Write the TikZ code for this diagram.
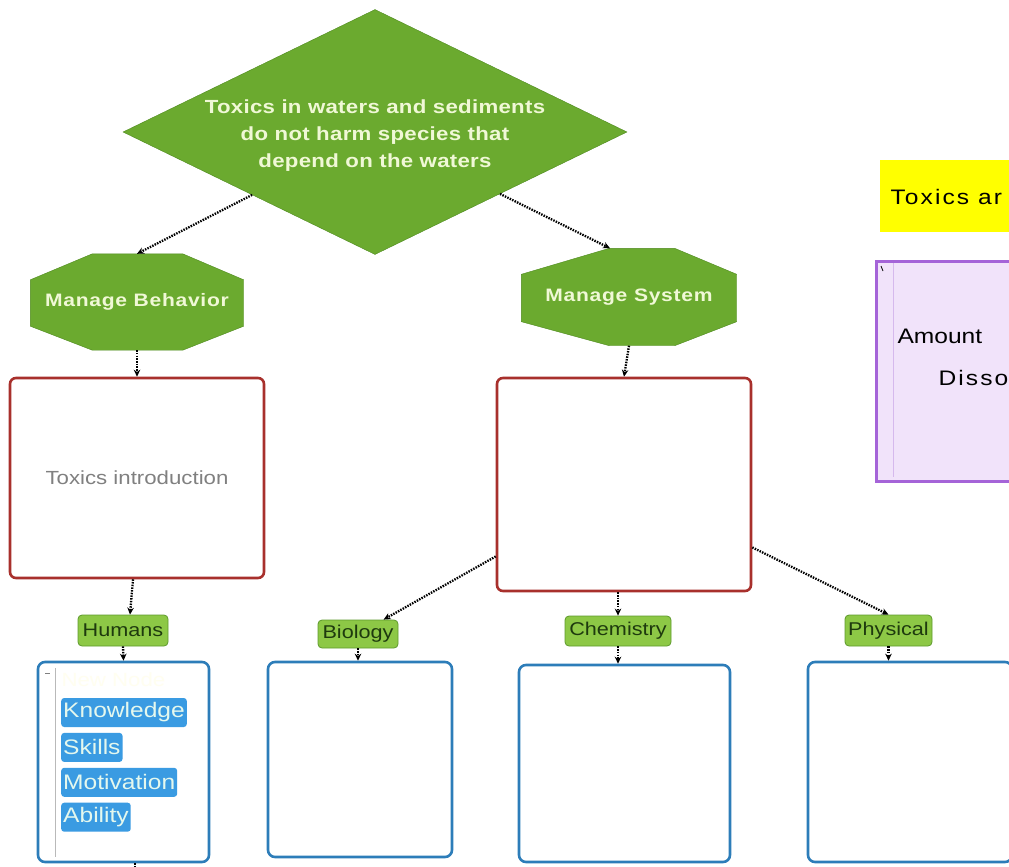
\documentclass[tikz,border=0pt]{standalone}
\usepackage{fontspec}
\setmainfont{Liberation Sans}[FakeStretch=1.17]
\newfontfamily\spacedfont{Liberation Sans}[FakeStretch=1.17, LetterSpace=4]
\newfontfamily\goalfont{Liberation Sans}[FakeStretch=1.17, LetterSpace=1.5]
\newfontfamily\notefont{Liberation Sans}[FakeStretch=1.17, LetterSpace=10]
\usepackage{tikz}
\usetikzlibrary{arrows.meta, positioning, shapes.geometric, calc, backgrounds}
\definecolor{goalGreen}{HTML}{6BAA2F}
\definecolor{goalEdge}{HTML}{4E8A1E}
\definecolor{goalText}{HTML}{F0F8D6}
\definecolor{factorRed}{HTML}{A8302C}
\definecolor{tagGreen}{HTML}{8DC846}
\definecolor{tagEdge}{HTML}{5E9A2C}
\definecolor{tagText}{HTML}{1E3A0E}
\definecolor{slotBlue}{HTML}{2D7DB9}
\definecolor{itemBlue}{HTML}{3A9BE2}
\definecolor{itemText}{HTML}{E4F8EE}
\definecolor{noteYellow}{HTML}{FFFF00}
\definecolor{notePurple}{HTML}{A564D8}
\definecolor{noteLilac}{HTML}{F1E3FA}
\tikzset{
	goal/.style={diamond, aspect=2.06, fill=goalGreen, draw=goalEdge, minimum width=504pt, minimum height=245pt, inner sep=0pt},
	goaltext/.style={align=center, text=goalText, font=\goalfont\bfseries\fontsize{19}{27}\selectfont},
	strategy/.style={rectangle, inner sep=0pt, text=goalText, font=\spacedfont\bfseries\fontsize{18}{22}\selectfont},
	octagon/.style={fill=goalGreen, draw=goalEdge},
	factor/.style={rectangle, rounded corners=6pt, draw=factorRed, line width=2.6pt, fill=white, minimum width=254pt, text=gray, font=\fontsize{19}{23}\selectfont},
	tag/.style={rectangle, rounded corners=4pt, fill=tagGreen, draw=tagEdge, line width=0.8pt, inner sep=0pt, text=tagText, font=\fontsize{18.5}{22}\selectfont},
	slot/.style={rectangle, rounded corners=7pt, draw=slotBlue, line width=2.6pt, fill=white},
	item/.style={rectangle, rounded corners=3pt, fill=itemBlue, text=itemText, inner xsep=2pt, inner ysep=0pt, minimum height=29pt, font=\fontsize{21}{25}\selectfont},
	conn/.style={line width=2.3pt, dash pattern=on 1.5pt off 1.2pt, -{Stealth[length=7pt, width=6.5pt]}},
}

\begin{document}
\begin{tikzpicture}[x=1pt, y=-1pt, every node/.style={inner sep=.25ex}]
	\useasboundingbox (0,0) rectangle (1009,867);
	\clip (0,0) rectangle (1009,867);

	% goal and the two strategies
	\node[goal] (goal) at (375,132) {};
	\node[goaltext] (goaltxt) at ($(goal)+(0,4)$) {Toxics in waters and sediments\\do not harm species that\\depend on the waters};
	\node[strategy, minimum width=213pt, minimum height=96pt] (behav) at (137,302) {Manage Behavior};
	\node[strategy, minimum width=215pt, minimum height=97pt] (sys) at (629,297) {Manage System};
	\begin{scope}[on background layer]
		\foreach \n/\l/\r in {behav/62/61, sys/88/62}
			\filldraw[octagon] ($(\n.north west)+(\l,0)$) -- ($(\n.north east)+(-\r,0)$) -- ($(\n.north east)+(0,26)$) -- ($(\n.south east)+(0,-24)$)
				-- ($(\n.south east)+(-\r,0)$) -- ($(\n.south west)+(\l,0)$) -- ($(\n.south west)+(0,-24)$) -- ($(\n.north west)+(0,26)$) -- cycle;
	\end{scope}
	\coordinate (sysN) at ($(sys.north)+(-19,0)$);

	% factor boxes
	\node[factor, minimum height=200pt] (intro) at (137,478) {Toxics introduction};
	\node[factor, minimum height=213pt] (sysbox) at (624,484.5) {};

	% tags
	\node[tag, minimum width=90pt, minimum height=31pt] (humans) at (123,630.5) {Humans};
	\node[tag, minimum width=80pt, minimum height=28pt] (bio) at (358,634) {Biology};
	\node[tag, minimum width=106pt, minimum height=30pt] (chem) at (618,631) {Chemistry};
	\node[tag, minimum width=87pt, minimum height=31pt] (phys) at (888.5,630.5) {Physical};

	% empty slots
	\node[slot, minimum width=171pt, minimum height=200pt] (slotA) at (123.5,762) {};
	\node[slot, minimum width=184pt, minimum height=195pt] (slotB) at (360,759.5) {};
	\node[slot, minimum width=211pt, minimum height=197pt] (slotC) at (624.5,763.5) {};
	\node[slot, minimum width=204pt, minimum height=200pt] (slotD) at (910,762) {};
	\coordinate (slotOut) at (135,880);

	% inside the humans slot
	\draw[gray!55, line width=0.6pt] (55,668) -- (55,857);
	\draw[gray, line width=0.8pt] (45,673) -- (50,673);
	\node[anchor=west, text=yellow!6, font=\fontsize{19}{23}\selectfont] (newnode) at (60,680) {New Node};
	\node[item, anchor=west] (know) at (61,712.5) {Knowledge};
	\node[item, below right=5.5pt and 0pt of know.south west] (skill) {Skills};
	\node[item, below right=5.5pt and 0pt of skill.south west] (motiv) {Motivation};
	\node[item, below right=5.5pt and 0pt of motiv.south west] (abil) {Ability};

	% notes on the right
	\node[fill=noteYellow, anchor=north west, minimum width=140pt, minimum height=72pt] (note) at (880,160) {};
	\node[anchor=west, font=\notefont\fontsize{21}{25}\selectfont] (notetxt) at (889,197) {Toxics ar};
	\node[fill=noteLilac, draw=notePurple, line width=2.6pt, anchor=north west, minimum width=150pt, minimum height=220pt] (amtbox) at (875,260) {};
	\draw[notePurple!45, line width=0.6pt] (893,263) -- (893,477);
	\draw[black, line width=0.8pt] (881,266) -- (883,271);
	\node[anchor=west, font=\fontsize{21}{25}\selectfont] (amount) at (896,336) {Amount};
	\node[anchor=west, font=\notefont\fontsize{21}{25}\selectfont] (disso) at (937,378) {Disso};

	% connectors
	\draw[conn] (goal) -- (behav.north);
	\draw[conn] (goal) -- (sysN);
	\draw[conn] (behav.south) -- (intro.north);
	\draw[conn] (sys.south) -- (sysbox.north);
	\draw[conn] ([xshift=-4pt]intro.south) -- ([xshift=7pt]humans.north);
	\draw[conn] (humans.south) -- (slotA.north);
	\draw[conn] (sysbox) -- (bio);
	\draw[conn] (sysbox.south -| chem.north) -- (chem.north);
	\draw[conn] (sysbox) -- (phys.north);
	\draw[conn] (bio.south) -- (bio.south |- slotB.north);
	\draw[conn] (chem.south) -- (chem.south |- slotC.north);
	\draw[conn] (phys.south) -- (phys.south |- slotD.north);
	\draw[conn] (slotA.south -| slotOut) -- (slotOut);

\end{tikzpicture}
\end{document}
